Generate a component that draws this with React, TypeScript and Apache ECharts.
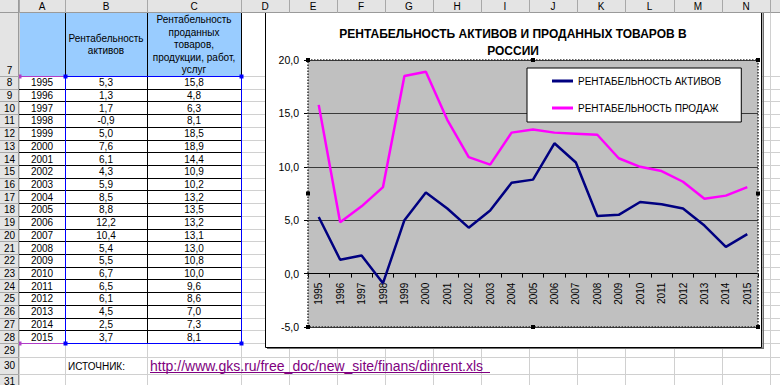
import React, { useEffect, useRef } from 'react';
import * as echarts from 'echarts';

const FONT = '"Liberation Sans", Arial, sans-serif';

// ---- data ----
const years = ['1995', '1996', '1997', '1998', '1999', '2000', '2001', '2002', '2003', '2004', '2005', '2006', '2007', '2008', '2009', '2010', '2011', '2012', '2013', '2014', '2015'];
const assetsReturn = [5.3, 1.3, 1.7, -0.9, 5.0, 7.6, 6.1, 4.3, 5.9, 8.5, 8.8, 12.2, 10.4, 5.4, 5.5, 6.7, 6.5, 6.1, 4.5, 2.5, 3.7];
const salesReturn = [15.8, 4.8, 6.3, 8.1, 18.5, 18.9, 14.4, 10.9, 10.2, 13.2, 13.5, 13.2, 13.1, 13.0, 10.8, 10.0, 9.6, 8.6, 7.0, 7.3, 8.1];
const seriesNames = ['РЕНТАБЕЛЬНОСТЬ АКТИВОВ', 'РЕНТАБЕЛЬНОСТЬ ПРОДАЖ'];
const seriesColors = ['#000080', '#ff00ff'];
const chartTitleLines = ['РЕНТАБЕЛЬНОСТЬ АКТИВОВ И ПРОДАННЫХ ТОВАРОВ В', 'РОССИИ'];
const headerB = 'Рентабельность\nактивов';
const headerC = 'Рентабельность\nпроданных\nтоваров,\nпродукции, работ,\nуслуг';
const columnLetters = ['A', 'B', 'C', 'D', 'E', 'F', 'G', 'H', 'I', 'J', 'K', 'L', 'M', 'N'];
const sourceLabel = 'ИСТОЧНИК:';
const sourceUrl = 'http://www.gks.ru/free_doc/new_site/finans/dinrent.xls';
const yMin = -5;
const yMax = 20;
const yStep = 5;

const fmt = (v: number) => v.toFixed(1).replace('.', ',');

// ---- sheet layout ----
const colEdges = [19, 65, 147, 241, 289, 337, 385, 433, 481, 529, 577, 625, 674, 722, 770];
const HEADER_H = 13;
const rowEdges: number[] = [13, 76];
for (let i = 1; i <= 21; i++) rowEdges.push(76 + i * 12.714);
rowEdges.push(356.7, 374, 387);

const PLOT = { x: 308, y: 60, w: 450, h: 267 };
// pixel offset that lifts the category axis from the plot bottom up to value 0
const zeroOffset = -PLOT.h * (0 - yMin) / (yMax - yMin);

function buildGraphic() {
  const els: any[] = [];
  const c = (v: number) => Math.round(v) + 0.5;
  const L = (x1: number, y1: number, x2: number, y2: number, stroke: string, lw = 1, z = 5) =>
    els.push({ type: 'line', silent: true, z, shape: { x1, y1, x2, y2 }, style: { stroke, lineWidth: lw } });
  const R = (x: number, y: number, w: number, h: number, fill: string, z = 2, stroke?: string, lw?: number, dash?: number[]) =>
    els.push({ type: 'rect', silent: true, z, shape: { x, y, width: w, height: h }, style: { fill, stroke, lineWidth: lw, lineDash: dash } });
  const T = (x: number, y: number, text: string, size: number, o: any = {}) =>
    els.push({
      type: 'text', silent: true, z: o.z ?? 20, x, y,
      style: {
        text, fontSize: size, fontFamily: FONT, fontWeight: o.weight || 'normal', fill: o.fill || '#000',
        textAlign: o.align || 'center', align: o.align || 'center',
        textVerticalAlign: o.va || 'middle', verticalAlign: o.va || 'middle',
        lineHeight: o.lh,
      },
    });

  // background
  R(0, 0, 780, 385, '#ffffff', 1);
  // header fill row 7
  R(colEdges[0], rowEdges[0], colEdges[3] - colEdges[0], rowEdges[1] - rowEdges[0], '#99ccff', 2);
  // light gridlines
  for (let i = 1; i < rowEdges.length; i++) L(colEdges[0], c(rowEdges[i]), 780, c(rowEdges[i]), '#d0d0d0', 1, 3);
  for (let j = 0; j < colEdges.length; j++) L(c(colEdges[j]), HEADER_H, c(colEdges[j]), 385, '#d0d0d0', 1, 3);
  // table borders (A7:C28)
  const tableBottom = rowEdges[22];
  for (let i = 1; i <= 22; i++) L(colEdges[0], c(rowEdges[i]), colEdges[3], c(rowEdges[i]), '#000000', 1, 6);
  for (let j = 1; j <= 3; j++) L(c(colEdges[j]), HEADER_H, c(colEdges[j]), c(tableBottom), '#000000', 1, 6);

  // chart data range highlight
  const purple = '#b03cc8';
  const blue = '#0000ff';
  L(colEdges[0], c(rowEdges[1]), colEdges[1], c(rowEdges[1]), purple, 1, 8);
  L(colEdges[0], c(tableBottom), colEdges[1], c(tableBottom), purple, 1, 8);
  L(colEdges[1], c(rowEdges[1]), colEdges[3], c(rowEdges[1]), blue, 1, 8);
  L(colEdges[1], c(tableBottom), colEdges[3], c(tableBottom), blue, 1, 8);
  L(c(colEdges[1]), rowEdges[1], c(colEdges[1]), tableBottom, blue, 1, 8);
  L(c(colEdges[3]), rowEdges[1], c(colEdges[3]), tableBottom, blue, 1, 8);
  [[colEdges[0], rowEdges[1], purple], [colEdges[0], tableBottom, purple], [colEdges[1], rowEdges[1], blue], [colEdges[3], rowEdges[1], blue], [colEdges[1], tableBottom, blue], [colEdges[3], tableBottom, blue]]
    .forEach(([x, y, col]) => R((x as number) - 1.5, (y as number) - 1.5, 4, 4, col as string, 9));

  // header texts row 7
  const midB = (colEdges[1] + colEdges[2]) / 2;
  const midC = (colEdges[2] + colEdges[3]) / 2;
  const midA = (colEdges[0] + colEdges[1]) / 2;
  T(midB, 44.5, headerB, 10, { lh: 12.3 });
  T(midC, 44.8, headerC, 10, { lh: 12.6 });
  // data cells
  for (let i = 0; i < years.length; i++) {
    const y = (rowEdges[i + 1] + rowEdges[i + 2]) / 2 + 0.5;
    T(midA, y, years[i], 10);
    T(midB, y, fmt(assetsReturn[i]), 10);
    T(midC, y, fmt(salesReturn[i]), 10);
  }
  // source row 30
  const srcY = 366.5;
  T(68, srcY, sourceLabel, 10, { align: 'left' });
  T(150, srcY - 1, sourceUrl, 14, { align: 'left', fill: '#800080' });
  L(150, 372.5, 490, 372.5, '#800080', 1, 20);

  // chart area
  R(c(763) - 1, 8, 1.5, 341, '#707070', 30);
  R(267, c(347), 496, 1.5, '#707070', 30);
  R(c(265), 5, 496, c(347) - 5, '#ffffff', 31, '#000000', 1);
  // plot area
  R(PLOT.x, PLOT.y, PLOT.w, PLOT.h, '#c0c0c0', 32);
  // plot dotted border + handles
  R(PLOT.x, PLOT.y, PLOT.w, PLOT.h, 'none', 80, '#303030', 1.5, [1.5, 1.5]);
  const hx = [PLOT.x, PLOT.x + PLOT.w / 2, PLOT.x + PLOT.w];
  const hy = [PLOT.y, PLOT.y + PLOT.h / 2, PLOT.y + PLOT.h];
  hx.forEach((x, a) => hy.forEach((y, b) => { if (!(a === 1 && b === 1)) R(x - 2, y - 2, 4, 4, '#000000', 81); }));
  // chart title
  T(513, 34.3, chartTitleLines[0], 12, { weight: 'bold', z: 82 });
  T(513, 50.5, chartTitleLines[1], 12, { weight: 'bold', z: 82 });

  // column headers
  R(0, 0, 780, HEADER_H, '#e4e4e4', 90);
  L(0, HEADER_H - 0.5, 780, HEADER_H - 0.5, '#9a9a9a', 1, 91);
  for (let j = 0; j < colEdges.length; j++) L(c(colEdges[j]), 0, c(colEdges[j]), HEADER_H, '#a8a8a8', 1, 91);
  for (let j = 0; j < columnLetters.length; j++) T((colEdges[j] + colEdges[j + 1]) / 2, 6.8, columnLetters[j], 10, { z: 92 });
  // row headers
  R(0, HEADER_H, colEdges[0], 385 - HEADER_H, '#e4e4e4', 90);
  L(colEdges[0] - 0.5, 0, colEdges[0] - 0.5, 385, '#9a9a9a', 1, 91);
  for (let i = 1; i < rowEdges.length; i++) L(0, c(rowEdges[i]), colEdges[0], c(rowEdges[i]), '#a8a8a8', 1, 91);
  for (let i = 0; i < rowEdges.length - 1; i++) {
    const y = i === 0 ? 70 : (rowEdges[i] + rowEdges[i + 1]) / 2 + 0.5;
    T(9.5, y, String(7 + i), 10, { z: 92 });
  }
  return els;
}

export default function App() {
  const ref = useRef<HTMLDivElement>(null);
  useEffect(() => {
    document.body.style.margin = '0';
    const chart = echarts.init(ref.current!, null, { renderer: 'svg', width: 780, height: 385 });
    const option: any = {
      animation: false,
      backgroundColor: '#ffffff',
      textStyle: { fontFamily: FONT },
      grid: { left: PLOT.x, top: PLOT.y, width: PLOT.w, height: PLOT.h, containLabel: false },
      legend: {
        orient: 'vertical',
        left: 527,
        top: 68,
        z: 70,
        backgroundColor: '#ffffff',
        borderColor: '#000000',
        borderWidth: 1,
        borderRadius: 0,
        padding: [6, 20, 7, 25],
        itemWidth: 21,
        itemHeight: 3,
        itemGap: 13,
        selectedMode: false,
        textStyle: { fontFamily: FONT, fontSize: 10, color: '#000', lineHeight: 14 },
        data: seriesNames.map((name, i) => ({ name, icon: 'rect', itemStyle: { color: seriesColors[i] } })),
      },
      xAxis: {
        type: 'category',
        data: years,
        boundaryGap: true,
        z: 50,
        offset: zeroOffset,
        axisLine: { onZero: false, lineStyle: { color: '#000', width: 1 } },
        axisTick: { show: true, interval: 0, length: 4, lineStyle: { color: '#000' } },
        axisLabel: { interval: 0, rotate: 90, margin: 9, fontSize: 10, fontFamily: FONT, color: '#000' },
        splitLine: { show: false },
      },
      yAxis: {
        type: 'value',
        min: yMin,
        max: yMax,
        interval: yStep,
        z: 50,
        axisLine: { show: false },
        axisTick: { show: true, length: 4, lineStyle: { color: '#000' } },
        axisLabel: { formatter: (v: number) => fmt(v), fontSize: 10.5, margin: 9, color: '#000', fontFamily: FONT },
        splitLine: { show: true, lineStyle: { color: '#3a3a3a', width: 1 } },
      },
      series: [
        {
          type: 'line', name: seriesNames[0], data: assetsReturn, symbol: 'none', z: 60,
          lineStyle: { color: seriesColors[0], width: 2.5 }, itemStyle: { color: seriesColors[0] },
        },
        {
          type: 'line', name: seriesNames[1], data: salesReturn, symbol: 'none', z: 60,
          lineStyle: { color: seriesColors[1], width: 2.5 }, itemStyle: { color: seriesColors[1] },
        },
      ],
      graphic: { elements: buildGraphic() },
    };
    chart.setOption(option);
    return () => chart.dispose();
  }, []);
  return <div ref={ref} style={{ width: 780, height: 385, position: 'absolute', left: 0, top: 0 }} />;
}
